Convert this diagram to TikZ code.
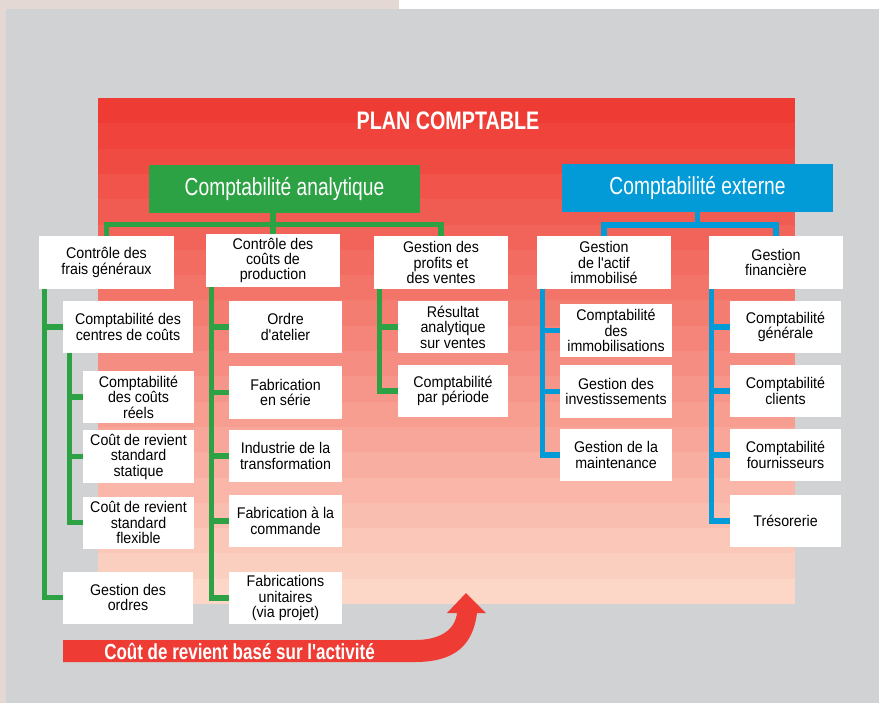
\documentclass[tikz,border=0pt]{standalone}
\usepackage{fontspec}
\setmainfont{Liberation Sans}
\newfontfamily\boxfont{Liberation Sans}[FakeStretch=0.92]
\newfontfamily\headfont{Liberation Sans}[FakeStretch=0.78]
\usetikzlibrary{calc}
\definecolor{planred}{HTML}{EE3B33}
\definecolor{planpeach}{HTML}{FCD7C8}
\definecolor{pagegray}{HTML}{D1D2D4}
\definecolor{pagebeige}{HTML}{E3D8D4}
\definecolor{cagreen}{HTML}{2DA244}
\definecolor{ceblue}{HTML}{039BD7}
\tikzset{
    box/.style={ % white boxes of the plan
        fill=white, inner sep=0pt, align=center,
        minimum width=#1, minimum height=1.3cm,
        font=\boxfont\fontsize{11}{11}\selectfont
    },
    box/.default=2.8cm,
    head/.style={ % the two coloured headers
        fill=#1, text=white, inner sep=0pt,
        minimum width=6.775cm, minimum height=1.2cm,
        font=\headfont\fontsize{17.5}{20}\selectfont
    },
    gline/.style={draw=cagreen, line width=3.6pt},
    bline/.style={draw=ceblue, line width=3.6pt},
}

\begin{document}
\begin{tikzpicture}[x=0.025cm, y=-0.025cm] % one unit = one pixel
    \useasboundingbox (0,0) rectangle (879,703);
    % page background
    \fill[white]      (0,0) rectangle (879,703);
    \fill[pagebeige]  (0,0) rectangle (399,9);
    \fill[pagebeige]  (0,0) rectangle (6,703);
    \fill[pagegray]   (6,9) rectangle (879,703);
    % banded red panel
    \foreach \i in {0,...,19}{
        \pgfmathsetmacro{\pct}{100*\i/19}
        \fill[planpeach!\pct!planred] (98,{98+25.3*\i}) rectangle (795,{98+25.3*(\i+1)+0.3});
    }
    \node[text=white, font=\headfont\bfseries\fontsize{18}{20}\selectfont] (title) at (448,121) {PLAN COMPTABLE};

    % headers
    \node[head=cagreen] (ca) at (284.5,189) {Comptabilité analytique};
    \node[head=ceblue]  (ce) at (697.5,188) {Comptabilité externe};

    % second level
    \node[box=3.35cm] (cfg) at (106.5,262.5) {Contrôle des\\frais généraux};
    \node[box=3.35cm] (ccp) at (273,260.5)   {Contrôle des\\coûts de\\production};
    \node[box=3.35cm] (gpv) at (441,262.5)   {Gestion des\\profits et\\des ventes};
    \node[box=3.35cm] (gai) at (604,262.5)   {Gestion\\de l'actif\\immobilisé};
    \node[box=3.35cm] (gfi) at (776,262.5)   {Gestion\\financière};

    % frais generaux
    \node[box=3.25cm] (cco)   at (128,327)    {Comptabilité des\\centres de coûts};
    \node[box=2.75cm] (ccr)   at (138.5,397)  {Comptabilité\\des coûts\\réels};
    \node[box=2.75cm] (csta)  at (138.5,456.5){Coût de revient\\standard\\statique};
    \node[box=2.75cm] (cflex) at (138.5,522.5){Coût de revient\\standard\\flexible};
    \node[box=3.25cm] (cgo)   at (128,597.5)  {Gestion des\\ordres};

    % couts de production
    \node[box=2.825cm] (oat) at (285.5,327)   {Ordre\\d'atelier};
    \node[box=2.825cm] (fse) at (285.5,392.5) {Fabrication\\en série};
    \node[box=2.825cm] (itr) at (285.5,456)   {Industrie de la\\transformation};
    \node[box=2.825cm] (fco) at (285.5,521)   {Fabrication à la\\commande};
    \node[box=2.825cm] (fun) at (285.5,598)   {Fabrications\\unitaires\\(via projet)};

    % profits et ventes
    \node[box=2.75cm] (ran) at (453,327) {Résultat\\analytique\\sur ventes};
    \node[box=2.75cm] (cpp) at (453,391) {Comptabilité\\par période};

    % actif immobilise
    \node[box=2.8cm] (cim) at (616,330.5) {Comptabilité\\des\\immobilisations};
    \node[box=2.8cm] (gin) at (616,391.5) {Gestion des\\investissements};
    \node[box=2.8cm] (gma) at (616,455)   {Gestion de la\\maintenance};

    % financiere
    \node[box=2.775cm] (cgen) at (785.5,327) {Comptabilité\\générale};
    \node[box=2.775cm] (ccli) at (785.5,391) {Comptabilité\\clients};
    \node[box=2.775cm] (cfou) at (785.5,455) {Comptabilité\\fournisseurs};
    \node[box=2.775cm] (tre)  at (785.5,521) {Trésorerie};

    % tree lines
    \coordinate (gj) at (275,224.5);
    \coordinate (bj) at (697.5,225);
    \draw[gline] (ca.south -| ccp.north) -- (ccp.north);
    \draw[gline] (cfg.north) -- (cfg.north |- gj) -- (gpv.north |- gj) -- (gpv.north);
    \draw[bline] (ce.south) -- (bj);
    \draw[bline] (gai.north) -- (gai.north |- bj) -- (gfi.north |- bj) -- (gfi.north);

    \draw[gline] ($(cfg.south west)+(5.5,0)$) |- (cco.west)
                 ($(cfg.south west)+(5.5,0)$) |- (cgo.west);
    \draw[gline] ($(cco.south west)+(6.5,0)$) |- (ccr.west)
                 ($(cco.south west)+(6.5,0)$) |- (csta.west)
                 ($(cco.south west)+(6.5,0)$) |- (cflex.west);
    \draw[gline] ($(ccp.south west)+(6,0)$) |- (oat.west)
                 ($(ccp.south west)+(6,0)$) |- (fse.west)
                 ($(ccp.south west)+(6,0)$) |- (itr.west)
                 ($(ccp.south west)+(6,0)$) |- (fco.west)
                 ($(ccp.south west)+(6,0)$) |- (fun.west);
    \draw[gline] ($(gpv.south west)+(6,0)$) |- (ran.west)
                 ($(gpv.south west)+(6,0)$) |- (cpp.west);
    \draw[bline] ($(gai.south west)+(5.5,0)$) |- (cim.west)
                 ($(gai.south west)+(5.5,0)$) |- (gin.west)
                 ($(gai.south west)+(5.5,0)$) |- (gma.west);
    \draw[bline] ($(gfi.south west)+(2.5,0)$) |- (cgen.west)
                 ($(gfi.south west)+(2.5,0)$) |- (ccli.west)
                 ($(gfi.south west)+(2.5,0)$) |- (cfou.west)
                 ($(gfi.south west)+(2.5,0)$) |- (tre.west);

    % activity based costing arrow
    \fill[planred] (63,640) -- (415,640) .. controls (440,640) and (455,630) .. (457,613)
        -- (447,613) -- (466,593) -- (486,613) -- (477,613)
        .. controls (473,645) and (455,662) .. (415,662) -- (63,662) -- cycle;
    \node[anchor=west, text=white, inner sep=0pt, font=\headfont\bfseries\fontsize{15.5}{18}\selectfont] (abc) at (104,651) {Coût de revient basé sur l'activité};
\end{tikzpicture}
\end{document}
